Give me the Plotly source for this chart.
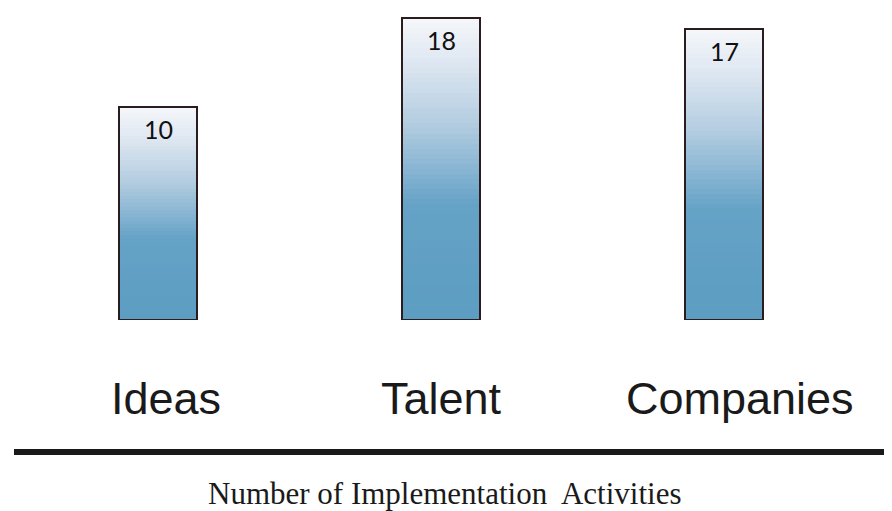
import plotly.graph_objects as go

categories = ["Ideas", "Talent", "Companies"]
values = [10, 18, 17]
axis_title = "Number of Implementation\u00a0 Activities"

# style (the page body adds an 8px offset, so the figure is 8px smaller)
W, H = 884, 503
PLOT_H = 312
BASE = -9
K = 11.2  # px per unit
SPACING = 283
FIRST_CENTER = 150
N = 60
stops = [(0.0, (245, 247, 251)), (0.15, (222, 231, 241)), (0.35, (179, 205, 224)),
         (0.5, (136, 181, 211)), (0.62, (101, 162, 198)), (1.0, (92, 157, 194))]


def color_at(t):
    for (t0, c0), (t1, c1) in zip(stops[:-1], stops[1:]):
        if t0 <= t <= t1:
            f = (t - t0) / (t1 - t0)
            c = [round(a + (b - a) * f) for a, b in zip(c0, c1)]
            return f"rgb({c[0]},{c[1]},{c[2]})"
    return f"rgb{stops[-1][1]}"


fig = go.Figure()
BAR_W = 78 / SPACING
for i in range(N):
    bases = [BASE + (v - BASE) * i / N for v in values]
    heights = [v - b for v, b in zip(values, bases)]
    t = 1 - (i + 0.5) / N
    fig.add_trace(go.Bar(x=categories, y=heights, base=bases, width=BAR_W,
                         marker=dict(color=color_at(t), line=dict(width=0)),
                         hoverinfo="skip", showlegend=False))

fig.add_trace(go.Bar(x=categories, y=[v - BASE for v in values], base=[BASE] * len(values),
                     width=BAR_W,
                     marker=dict(color="rgba(0,0,0,0)", line=dict(color="#2b1d1f", width=2)),
                     hoverinfo="skip", showlegend=False))

for c, v in zip(categories, values):
    fig.add_annotation(x=c, y=v, text=str(v), showarrow=False, yanchor="middle",
                       yshift=-22, font=dict(family="Lato, Open Sans", size=25, color="#111111"))

label_shift = [8, 0, 16]
for c, s in zip(categories, label_shift):
    fig.add_annotation(x=c, y=-78 / PLOT_H, yref="paper", text=c, showarrow=False, xshift=s,
                       yanchor="middle",
                       font=dict(family="Liberation Sans, Arial", size=45, color="#1a1a1a"))

fig.add_annotation(x=(445 - 8) / W, y=-173 / PLOT_H, xref="paper", yref="paper", text=axis_title,
                   showarrow=False, yanchor="middle",
                   font=dict(family="Liberation Serif, Times New Roman", size=31, color="#1a1a1a"))

fig.add_shape(type="line", xref="paper", yref="paper", x0=6 / W, x1=1.0,
              y0=-132 / PLOT_H, y1=-132 / PLOT_H,
              line=dict(color="#1a1a1a", width=6))

fig.update_layout(
    width=W, height=H,
    margin=dict(l=0, r=0, t=0, b=H - PLOT_H),
    barmode="overlay",
    plot_bgcolor="white", paper_bgcolor="white",
    xaxis=dict(range=[-FIRST_CENTER / SPACING, (W - FIRST_CENTER) / SPACING],
               visible=False, fixedrange=True),
    yaxis=dict(range=[BASE, BASE + PLOT_H / K], visible=False, fixedrange=True),
    bargap=0,
)

fig.write_html("out.html", config={"displayModeBar": False})
